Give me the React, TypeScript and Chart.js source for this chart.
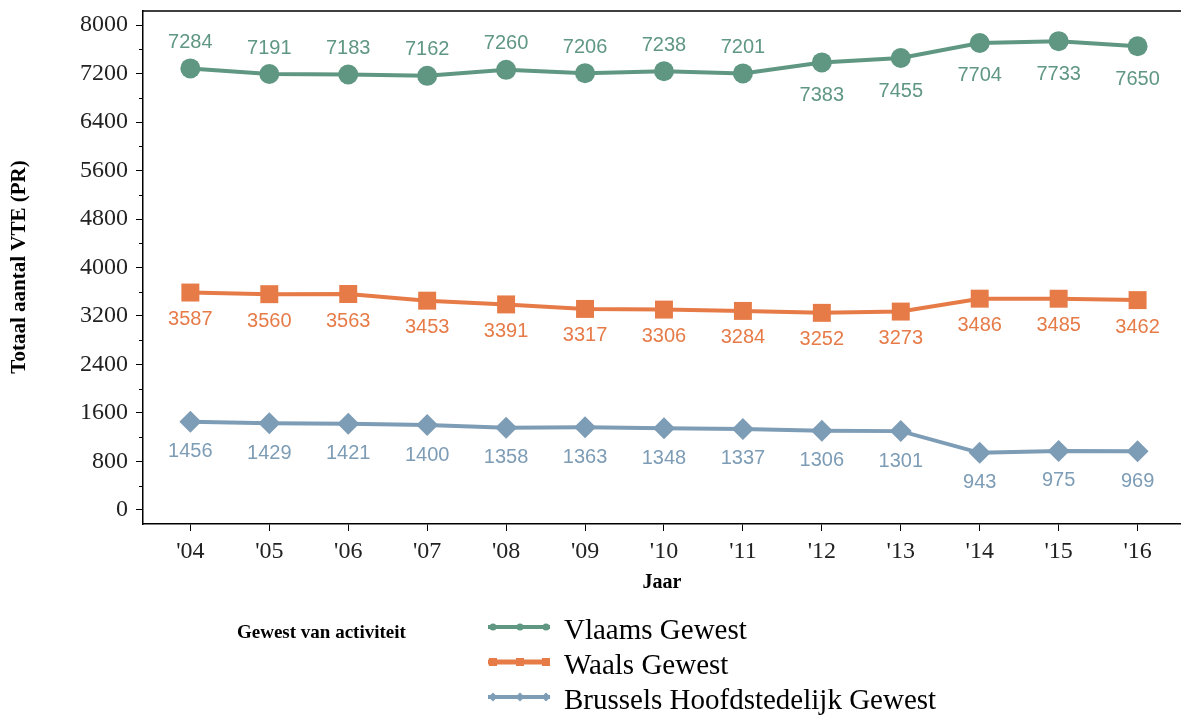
import React, { useEffect, useRef } from 'react';
import { Chart, registerables } from 'chart.js';

Chart.register(...registerables);

// ---- data ----
const years = ["'04", "'05", "'06", "'07", "'08", "'09", "'10", "'11", "'12", "'13", "'14", "'15", "'16"];
const vlaams = [7284, 7191, 7183, 7162, 7260, 7206, 7238, 7201, 7383, 7455, 7704, 7733, 7650];
const waals = [3587, 3560, 3563, 3453, 3391, 3317, 3306, 3284, 3252, 3273, 3486, 3485, 3462];
const brussel = [1456, 1429, 1421, 1400, 1358, 1363, 1348, 1337, 1306, 1301, 943, 975, 969];
const yTickValues = [0, 800, 1600, 2400, 3200, 4000, 4800, 5600, 6400, 7200, 8000];
const yMinorTicks = [400, 1200, 2000, 2800, 3600, 4400, 5200, 6000, 6800, 7600];
const seriesNames = ['Vlaams Gewest', 'Waals Gewest', 'Brussels Hoofdstedelijk Gewest'];
const seriesColors = ['#5f9783', '#e67b48', '#7d9cb5'];
const seriesPointStyles = ['circle', 'rect', 'rectRot'];
const yTitle = 'Totaal aantal VTE (PR)';
const xTitle = 'Jaar';
const legendTitle = 'Gewest van activiteit';

const SERIF = '"Liberation Serif", "Times New Roman", serif';
const SANS = '"Liberation Sans", Arial, sans-serif';

const zeroPad = (s: any) => {
  s.paddingTop = 0;
  s.paddingBottom = 0;
  s.paddingLeft = 0;
  s.paddingRight = 0;
};

const decorPlugin = {
  id: 'decor',
  afterDatasetsDraw(chart: any) {
    const ctx = chart.ctx;
    ctx.save();
    ctx.font = `20px ${SANS}`;
    ctx.textAlign = 'center';
    ctx.textBaseline = 'middle';
    chart.data.datasets.forEach((ds: any, di: number) => {
      const meta = chart.getDatasetMeta(di);
      ctx.fillStyle = ds.borderColor;
      meta.data.forEach((pt: any, i: number) => {
        let off = 28;
        if (di === 0) off = i < 8 ? -26 : 33;
        else if (di === 1) off = 27;
        else off = 30;
        ctx.fillText(String(ds.data[i].y), pt.x, pt.y + off);
      });
    });
    ctx.restore();
  },
  afterDraw(chart: any) {
    const ctx = chart.ctx;
    const a = chart.chartArea;
    const ys = chart.scales.y;
    ctx.save();
    // top frame line
    ctx.strokeStyle = '#000';
    ctx.lineWidth = 1.5;
    ctx.beginPath();
    ctx.moveTo(a.left, a.top);
    ctx.lineTo(a.right, a.top);
    ctx.stroke();
    // minor ticks
    ctx.lineWidth = 1;
    yMinorTicks.forEach((v) => {
      const y = Math.round(ys.getPixelForValue(v)) + 0.5;
      ctx.beginPath();
      ctx.moveTo(a.left - 4, y);
      ctx.lineTo(a.left, y);
      ctx.stroke();
    });
    // y title
    ctx.fillStyle = '#000';
    ctx.font = `bold 21px ${SERIF}`;
    ctx.textAlign = 'center';
    ctx.textBaseline = 'middle';
    ctx.save();
    ctx.translate(20, 267);
    ctx.rotate(-Math.PI / 2);
    ctx.fillText(yTitle, 0, 0);
    ctx.restore();
    // x title
    ctx.font = `bold 20px ${SERIF}`;
    ctx.fillText(xTitle, (a.left + a.right) / 2, 583);
    // legend title
    ctx.font = `bold 19px ${SERIF}`;
    ctx.textAlign = 'left';
    ctx.fillText(legendTitle, 237, 633);
    // legend entries
    const rows = [627, 662, 697];
    rows.forEach((ry, i) => {
      const c = seriesColors[i];
      ctx.strokeStyle = c;
      ctx.fillStyle = c;
      ctx.lineWidth = i === 1 ? 5 : 4;
      ctx.beginPath();
      ctx.moveTo(488, ry);
      ctx.lineTo(550, ry);
      ctx.stroke();
      [493, 520, 546].forEach((mx) => {
        ctx.beginPath();
        if (i === 0) {
          ctx.arc(mx, ry, 3.5, 0, Math.PI * 2);
        } else if (i === 1) {
          ctx.rect(mx - 4, ry - 4, 8, 8);
        } else {
          ctx.moveTo(mx - 4.5, ry);
          ctx.lineTo(mx, ry - 4.5);
          ctx.lineTo(mx + 4.5, ry);
          ctx.lineTo(mx, ry + 4.5);
          ctx.closePath();
        }
        ctx.fill();
      });
      ctx.fillStyle = '#000';
      ctx.font = `29px ${SERIF}`;
      ctx.textBaseline = 'alphabetic';
      ctx.fillText(seriesNames[i], 564, ry + 12);
    });
    ctx.restore();
  },
};

export default function App() {
  const ref = useRef<HTMLCanvasElement>(null);
  useEffect(() => {
    if (!ref.current) return;
    const seriesData = [vlaams, waals, brussel];
    const chart = new Chart(ref.current, {
      type: 'line',
      data: {
        datasets: seriesData.map((d, i) => ({
          label: seriesNames[i],
          data: d.map((v, j) => ({ x: j, y: v })) as any,
          borderColor: seriesColors[i],
          backgroundColor: seriesColors[i],
          borderWidth: 4,
          pointStyle: seriesPointStyles[i] as any,
          pointRadius: i === 0 ? 10 : i === 1 ? 12.7 : 11,
          pointBorderWidth: 0,
          tension: 0,
        })),
      },
      options: {
        animation: false,
        responsive: false,
        maintainAspectRatio: false,
        layout: { autoPadding: false, padding: { top: 11, left: 0, right: 0, bottom: 0 } },
        plugins: {
          legend: { display: false },
          tooltip: { enabled: false },
        },
        scales: {
          x: {
            type: 'linear',
            min: -0.6,
            max: 12.55,
            afterFit: (s: any) => { s.height = 193; zeroPad(s); },
            afterBuildTicks: (s: any) => { s.ticks = years.map((_, i) => ({ value: i })); },
            ticks: {
              callback: (v: any) => years[v as number] ?? '',
              font: { family: SERIF, size: 24 },
              color: '#222',
              padding: 6,
              maxRotation: 0,
              autoSkip: false,
            },
            grid: { drawOnChartArea: false, drawTicks: true, tickLength: 7, color: '#000' },
            border: { display: true, color: '#000', width: 1.5 },
          },
          y: {
            type: 'linear',
            min: -231,
            max: 8231,
            afterFit: (s: any) => { s.width = 143; zeroPad(s); },
            afterBuildTicks: (s: any) => { s.ticks = yTickValues.map((v) => ({ value: v })); },
            ticks: {
              font: { family: SERIF, size: 24 },
              color: '#222',
              padding: 8,
              callback: (v: any) => String(v),
            },
            grid: { drawOnChartArea: false, drawTicks: true, tickLength: 7, color: '#000' },
            border: { display: true, color: '#000', width: 1.5 },
          },
        },
      },
      plugins: [decorPlugin],
    });
    return () => chart.destroy();
  }, []);
  return (
    <div style={{ position: 'absolute', left: 0, top: 0, width: 1181, height: 717, background: '#fff' }}>
      <canvas ref={ref} width={1181} height={717} style={{ width: 1181, height: 717, display: 'block' }} />
    </div>
  );
}
